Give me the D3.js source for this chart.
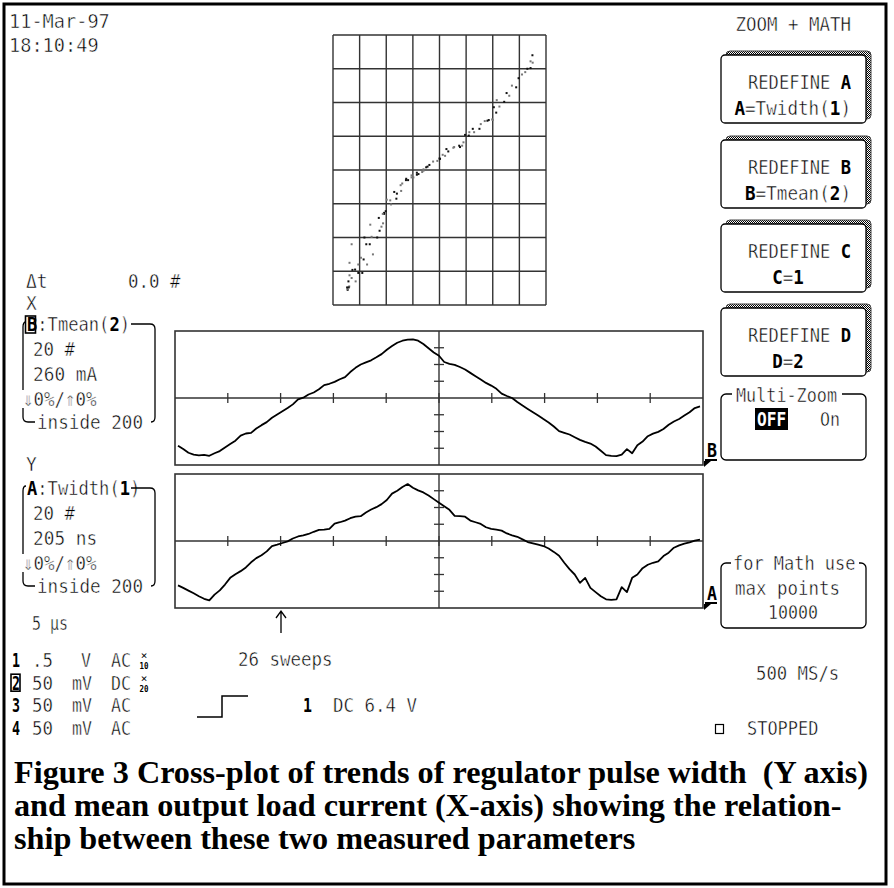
<!DOCTYPE html>
<html>
<head>
<meta charset="utf-8">
<script src="https://cdn.jsdelivr.net/npm/d3@7"></script>
<style>
  body { margin: 0; background: #fff; }
  svg { display: block; }
  text { white-space: pre; }
</style>
</head>
<body>
<div id="scope"></div>
<script>
// Trend of B = Tmean(2) and A = Twidth(1), one sample every 0.1 div, values in divisions
const bTrend = [
  -2.85, -3.05, -3.27, -3.38, -3.42, -3.39, -3.45, -3.30, -3.17, -2.95,
  -2.75, -2.55, -2.25, -2.12, -2.08, -1.82, -1.62, -1.44, -1.18, -0.98,
  -0.79, -0.60, -0.38, -0.08, 0.02, 0.21, 0.33, 0.52, 0.77, 0.85,
  0.96, 1.12, 1.25, 1.55, 1.80, 2.00, 2.13, 2.25, 2.43, 2.62,
  2.88, 3.10, 3.30, 3.42, 3.49, 3.50, 3.42, 3.22, 2.97, 2.72,
  2.52, 2.15, 2.04, 1.98, 1.85, 1.70, 1.50, 1.30, 1.10, 0.90,
  0.74, 0.55, 0.26, 0.12, 0.00, -0.24, -0.45, -0.65, -0.85, -1.05,
  -1.26, -1.46, -1.70, -1.98, -2.08, -2.18, -2.34, -2.50, -2.62, -2.72,
  -2.90, -3.15, -3.41, -3.45, -3.47, -3.38, -3.05, -3.30, -2.82, -2.60,
  -2.28, -2.13, -2.02, -1.85, -1.60, -1.40, -1.25, -1.05, -0.85, -0.60,
  -0.50
];
const aTrend = [
  -2.65, -2.80, -2.96, -3.12, -3.30, -3.45, -3.55, -3.20, -2.95, -2.60,
  -2.20, -1.98, -1.80, -1.58, -1.27, -1.02, -0.85, -0.62, -0.30, -0.22,
  -0.12, -0.02, 0.15, 0.27, 0.33, 0.42, 0.55, 0.66, 0.68, 0.72,
  1.04, 1.12, 1.22, 1.36, 1.46, 1.48, 1.70, 1.88, 2.02, 2.20,
  2.45, 2.83, 3.00, 3.22, 3.40, 3.18, 3.02, 2.90, 2.72, 2.50,
  2.28, 2.07, 1.86, 1.50, 1.48, 1.45, 1.22, 1.12, 1.02, 0.82,
  0.72, 0.68, 0.62, 0.45, 0.34, 0.25, 0.10, -0.06, -0.14, -0.22,
  -0.30, -0.45, -0.65, -0.88, -1.30, -1.68, -2.00, -2.50, -2.20, -2.80,
  -3.05, -3.30, -3.48, -3.52, -3.48, -2.75, -3.05, -2.20, -2.00, -1.62,
  -1.42, -1.30, -1.22, -0.90, -0.70, -0.40, -0.26, -0.16, -0.08, 0.02,
  0.08
];

// menu and status texts
const menuLetters = ["A", "B", "C", "D"];
const menuDefs = ["Twidth(1)", "Tmean(2)", "1", "2"];
const chanIds = ["1", "2", "3", "4"];
const chanVolts = [".5", "50", "50", "50"];
const chanUnits = ["V", "mV", "mV", "mV"];
const chanCoupling = ["AC", "DC", "AC", "AC"];
const chanProbe = ["10", "20", "", ""];
const paramX = ["*B*", "Tmean(2)", "20 #", "260 mA"];
const paramY = ["*A*", "Twidth(1)", "20 #", "205 ns"];
const caption = [
  "Figure 3 Cross-plot of trends of regulator pulse width  (Y axis)",
  "and mean output load current (X-axis) showing the relation-",
  "ship between these two measured parameters"
];

const svg = d3.select("#scope").append("svg")
  .attr("width", 894)
  .attr("height", 888)
  .style("font-family", "'DejaVu Sans Mono', monospace");

const defs = svg.append("defs");
const pat = defs.append("pattern").attr("id", "stip")
  .attr("width", 2).attr("height", 2).attr("patternUnits", "userSpaceOnUse");
pat.append("rect").attr("width", 2).attr("height", 2).attr("fill", "#fff");
pat.append("rect").attr("width", 1).attr("height", 1).attr("fill", "#000");
pat.append("rect").attr("x", 1).attr("y", 1).attr("width", 1).attr("height", 1).attr("fill", "#000");

// outer frame
svg.append("rect")
  .attr("x", 4).attr("y", 4).attr("width", 882).attr("height", 880)
  .attr("fill", "#fff").attr("stroke", "#000").attr("stroke-width", 3);

// scope-style text; *x* marks bold pieces, y is the vertical middle of the caps
function say(x, y, str, o = {}) {
  const parts = str.split("*");
  const n = parts.join("").length;
  const t = svg.append("text")
    .attr("x", x).attr("y", y + 7)
    .attr("font-size", o.size || 20)
    .attr("text-anchor", o.anchor || "start")
    .attr("textLength", n * (o.pitch || 10.8))
    .attr("lengthAdjust", "spacingAndGlyphs")
    .attr("fill", o.fill || "#000");
  parts.forEach((p, i) => {
    if (!p) return;
    const bold = i % 2 || o.bold;
    const s = t.append("tspan").attr("font-weight", bold ? "bold" : "normal").text(p);
    // thin the regular glyphs a little, the scope font is a light one
    if (!bold) s.attr("stroke", "#fff").attr("stroke-width", 0.5);
  });
  return t;
}
const boldDigits = s => s.replace(/(\d)/g, "*$1*");

// date / time
say(9, 21, "11-Mar-97", { pitch: 11.2 });
say(9, 45, "18:10:49", { pitch: 11.2 });
say(851, 24, "ZOOM + MATH", { anchor: "end", pitch: 10.5 });

// ---- XY cross-plot ----
const xyX = d3.scaleLinear().domain([-4, 4]).range([333, 546]);
const xyY = d3.scaleLinear().domain([-4, 4]).range([305, 35]);
const xy = svg.append("g");
d3.range(-4, 5).forEach(v => {
  xy.append("line").attr("x1", xyX(v)).attr("x2", xyX(v)).attr("y1", xyY(-4)).attr("y2", xyY(4))
    .attr("stroke", "#333").attr("stroke-width", 1.4);
  xy.append("line").attr("x1", xyX(-4)).attr("x2", xyX(4)).attr("y1", xyY(v)).attr("y2", xyY(v))
    .attr("stroke", "#333").attr("stroke-width", 1.4);
});
xy.selectAll("rect.dot")
  .data(bTrend.map((b, i) => [b, aTrend[i]]))
  .enter().append("rect")
  .attr("class", "dot")
  .attr("x", d => xyX(d[0]) - 1)
  .attr("y", d => xyY(d[1]) - 1)
  .attr("width", 2).attr("height", 2)
  .attr("fill", (d, i) => i % 2 ? "#777" : "#111");

// ---- trend panels ----
const tDiv = d3.scaleLinear().domain([0, 10]).range([175, 703]);
const tIdx = d3.scaleLinear().domain([0, bTrend.length - 1]).range([178, 700]);
const panelTops = [331, 474];
[bTrend, aTrend].forEach((data, p) => {
  const y = d3.scaleLinear().domain([-4, 4]).range([panelTops[p] + 134, panelTops[p]]);
  const g = svg.append("g");
  g.append("rect").attr("x", tDiv(0)).attr("y", y(4)).attr("width", tDiv(10) - tDiv(0)).attr("height", y(-4) - y(4))
    .attr("fill", "none").attr("stroke", "#333").attr("stroke-width", 1.6);
  g.append("line").attr("x1", tDiv(0)).attr("x2", tDiv(10)).attr("y1", y(0)).attr("y2", y(0))
    .attr("stroke", "#333").attr("stroke-width", 1.4);
  g.append("line").attr("x1", tDiv(5)).attr("x2", tDiv(5)).attr("y1", y(4)).attr("y2", y(-4))
    .attr("stroke", "#333").attr("stroke-width", 1.4);
  d3.range(1, 10).forEach(k => {
    g.append("line").attr("x1", tDiv(k)).attr("x2", tDiv(k)).attr("y1", y(0) - 5).attr("y2", y(0) + 5)
      .attr("stroke", "#333").attr("stroke-width", 1.3);
  });
  [-3, -2, -1, 1, 2, 3].forEach(k => {
    g.append("line").attr("x1", tDiv(5) - 5).attr("x2", tDiv(5) + 5).attr("y1", y(k)).attr("y2", y(k))
      .attr("stroke", "#333").attr("stroke-width", 1.3);
  });
  g.append("path")
    .datum(data)
    .attr("d", d3.line().x((d, i) => tIdx(i)).y(d => y(d)))
    .attr("fill", "none").attr("stroke", "#000").attr("stroke-width", 1.8)
    .attr("stroke-linejoin", "round");

  // trace label at the right edge
  const L = p === 0 ? "B" : "A";
  const yb = y(-4);
  say(707, yb - 15, "*" + L + "*", { pitch: 10 });
  g.append("line").attr("x1", 705).attr("x2", 717).attr("y1", yb - 5).attr("y2", yb - 5)
    .attr("stroke", "#000").attr("stroke-width", 2);
  g.append("path").attr("d", `M704,${yb - 4} L711,${yb - 4} L704,${yb + 2} Z`).attr("fill", "#000");
});

// ---- left parameter blocks ----
say(26, 281, "\u0394t");
say(128, 281, "0.0 #", { pitch: 10.5 });
function paramBlock(top, vals) {
  if (vals[0] === "*B*") {
    svg.append("rect").attr("x", 25.5).attr("y", top - 8).attr("width", 10).attr("height", 17)
      .attr("fill", "none").attr("stroke", "#000").attr("stroke-width", 1.6);
  }
  say(27, top, vals[0] + ":" + boldDigits(vals[1]), { pitch: 10.3 });
  say(33, top + 25, vals[2], { pitch: 10.5 });
  say(33, top + 50, vals[3], { pitch: 10.7 });
  say(23, top + 75, "\u21d30%/\u21d10%", { pitch: 10.5 });
  say(37, top + 98, "inside 200", { pitch: 10.6 });
  svg.append("path")
    .attr("d", `M131,${top} H150 Q155,${top} 155,${top + 5} V${top + 93} Q155,${top + 98} 151,${top + 98}`)
    .attr("fill", "none").attr("stroke", "#000").attr("stroke-width", 1.3);
  svg.append("path")
    .attr("d", `M26,${top - 2} Q23,${top - 2} 23,${top + 3} V${top + 66} M23,${top + 84} V${top + 93} Q23,${top + 98} 28,${top + 98} H35`)
    .attr("fill", "none").attr("stroke", "#000").attr("stroke-width", 1.3);
}
say(26, 303, "X");
paramBlock(324, paramX);
say(26, 464, "Y");
paramBlock(488, paramY);

// ---- bottom status ----
say(32, 623, "5 \u03bcs", { pitch: 9 });
chanIds.forEach((id, i) => {
  const cy = 660 + i * 22.7;
  if (id === "2") {
    svg.append("rect").attr("x", 11).attr("y", cy - 8.5).attr("width", 9).attr("height", 17)
      .attr("fill", "none").attr("stroke", "#000").attr("stroke-width", 1.6);
  }
  say(12, cy, "*" + id + "*", { pitch: 8 });
  say(32, cy, chanVolts[i], { pitch: 10.5 });
  say(chanUnits[i] === "V" ? 81 : 72, cy, chanUnits[i], { pitch: 10 });
  say(111, cy, chanCoupling[i], { pitch: 10 });
  if (chanProbe[i]) {
    svg.append("text").attr("x", 144).attr("y", cy - 1).attr("font-size", 11)
      .attr("text-anchor", "middle").text("\u00d7");
    svg.append("text").attr("x", 144).attr("y", cy + 9).attr("font-size", 9).attr("font-weight", "bold")
      .attr("text-anchor", "middle").attr("textLength", 9).attr("lengthAdjust", "spacingAndGlyphs").text(chanProbe[i]);
  }
});
svg.append("path").attr("d", "M281,633 V612 M276,618 L281,611 L286,618")
  .attr("fill", "none").attr("stroke", "#000").attr("stroke-width", 1.3);
say(238, 659, "26 sweeps", { pitch: 10.5 });
svg.append("path").attr("d", "M197,717 H222 V696 H248")
  .attr("fill", "none").attr("stroke", "#000").attr("stroke-width", 1.5);
say(303, 705, "*1*", { pitch: 9 });
say(333, 705, "DC 6.4 V", { pitch: 10.5 });

// ---- right menu ----
const menuTop = [55, 140, 224, 308];
menuLetters.forEach((L, i) => {
  const y0 = menuTop[i];
  svg.append("rect").attr("x", 726).attr("y", y0 - 4).attr("width", 145).attr("height", 68).attr("rx", 4)
    .attr("fill", "url(#stip)").attr("stroke", "#444").attr("stroke-width", 1);
  svg.append("rect").attr("x", 721).attr("y", y0).attr("width", 145).attr("height", 68).attr("rx", 4)
    .attr("fill", "#fff").attr("stroke", "#000").attr("stroke-width", 1.3);
  say(851, y0 + 27, "REDEFINE *" + L + "*", { anchor: "end", pitch: 10.3 });
  const def = "*" + L + "*=" + boldDigits(menuDefs[i]);
  if (menuDefs[i].length > 2) say(851, y0 + 53, def, { anchor: "end", pitch: 10.6 });
  else say(788, y0 + 53, def, { anchor: "middle", pitch: 10.5 });
});

// Multi-Zoom box
svg.append("rect").attr("x", 721).attr("y", 394).attr("width", 145).attr("height", 66).attr("rx", 5)
  .attr("fill", "#fff").attr("stroke", "#000").attr("stroke-width", 1.3);
svg.append("rect").attr("x", 732).attr("y", 386).attr("width", 110).attr("height", 16).attr("fill", "#fff");
say(736, 395, "Multi-Zoom", { pitch: 10.1 });
svg.append("rect").attr("x", 755).attr("y", 408).attr("width", 33).attr("height", 22).attr("fill", "#000");
say(757, 419, "OFF", { fill: "#fff", bold: true, pitch: 9.7 });
say(820, 419, "On", { pitch: 10 });

// Math box
svg.append("rect").attr("x", 721).attr("y", 563).attr("width", 145).attr("height", 65).attr("rx", 5)
  .attr("fill", "#fff").attr("stroke", "#000").attr("stroke-width", 1.3);
svg.append("rect").attr("x", 731).attr("y", 555).attr("width", 128).attr("height", 16).attr("fill", "#fff");
say(733, 563, "for Math use", { pitch: 10.2 });
say(735, 588, "max points", { pitch: 10.5 });
say(768, 612, "10000", { pitch: 10 });

say(756, 673, "500 MS/s", { pitch: 10.4 });
svg.append("rect").attr("x", 715.5).attr("y", 724.5).attr("width", 8).attr("height", 9)
  .attr("fill", "none").attr("stroke", "#000").attr("stroke-width", 1.2);
say(747, 728, "STOPPED", { pitch: 10.2 });

// ---- caption: same horizontal squeeze for every line, fitted on the first ----
const capText = caption.map((line, i) => svg.append("text")
  .attr("x", 14).attr("y", 783 + i * 33)
  .attr("font-family", "'Liberation Serif', 'Times New Roman', serif")
  .attr("font-weight", "bold").attr("font-size", 32)
  .text(line));
const squeeze = 854 / capText[0].node().getComputedTextLength();
capText.forEach(t => {
  t.attr("textLength", t.node().getComputedTextLength() * squeeze)
    .attr("lengthAdjust", "spacingAndGlyphs");
});
</script>
</body>
</html>
